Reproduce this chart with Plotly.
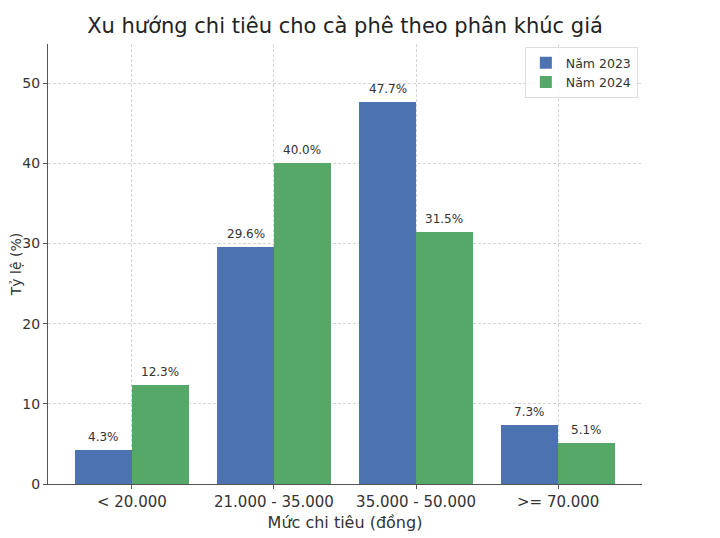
import plotly.graph_objects as go

# du lieu
categories = ["< 20.000", "21.000 - 35.000", "35.000 - 50.000", ">= 70.000"]
values_2023 = [4.3, 29.6, 47.7, 7.3]
values_2024 = [12.3, 40.0, 31.5, 5.1]
series_names = ["Năm 2023", "Năm 2024"]

x_pos = list(range(len(categories)))
bar_w = 0.4

fig = go.Figure()
fig.add_trace(go.Bar(
    x=[i - bar_w / 2 for i in x_pos], y=values_2023, width=bar_w,
    name=series_names[0], marker=dict(color="#4c72b0", line=dict(width=0)),
))
fig.add_trace(go.Bar(
    x=[i + bar_w / 2 for i in x_pos], y=values_2024, width=bar_w,
    name=series_names[1], marker=dict(color="#55a868", line=dict(width=0)),
))

# nhan gia tri tren cot
for i in x_pos:
    for off, vals in ((-bar_w / 2, values_2023), (bar_w / 2, values_2024)):
        fig.add_annotation(
            x=i + off, y=vals[i], text=f"{vals[i]:.1f}%", showarrow=False,
            yshift=13, font=dict(size=12, color="#333333"),
        )

# trang co le ~7px, bu lai trong margin
fig.update_layout(
    width=720, height=538,
    margin=dict(l=40, r=86, t=36, b=62),
    paper_bgcolor="white", plot_bgcolor="white",
    font=dict(family="DejaVu Sans", size=14, color="#333333"),
    title=dict(text="Xu hướng chi tiêu cho cà phê theo phân khúc giá",
               x=(40 + 634) / 2 / 720, xanchor="center",
               y=1 - 18 / 538, yanchor="middle",
               font=dict(size=21, color="#222222")),
    barmode="overlay", bargap=0,
    showlegend=True,
    legend=dict(x=0.993, y=0.993, xanchor="right", yanchor="top",
                bgcolor="rgba(255,255,255,0.8)", bordercolor="#dddddd", borderwidth=1,
                font=dict(size=12.5)),
)

fig.update_xaxes(
    range=[-0.59, 3.59], tickvals=x_pos, ticktext=categories,
    automargin=False,
    showline=True, linecolor="#555555", linewidth=1,
    ticks="outside", ticklen=4, tickcolor="#555555", tickfont=dict(size=15),
    showgrid=True, gridcolor="#d4d4d4", griddash="3px,2px", gridwidth=1,
    zeroline=False,
    title=dict(text="Mức chi tiêu (đồng)", standoff=6, font=dict(size=16)),
)
fig.update_yaxes(
    range=[0, 54.9], tickvals=[0, 10, 20, 30, 40, 50],
    automargin=False,
    showline=True, linecolor="#555555", linewidth=1,
    ticks="outside", ticklen=4, tickcolor="#555555", tickfont=dict(size=14),
    showgrid=True, gridcolor="#d4d4d4", griddash="3px,2px", gridwidth=1,
    zeroline=False,
    title=dict(text="Tỷ lệ (%)", standoff=4, font=dict(size=14)),
)

fig.write_html("out.html")
